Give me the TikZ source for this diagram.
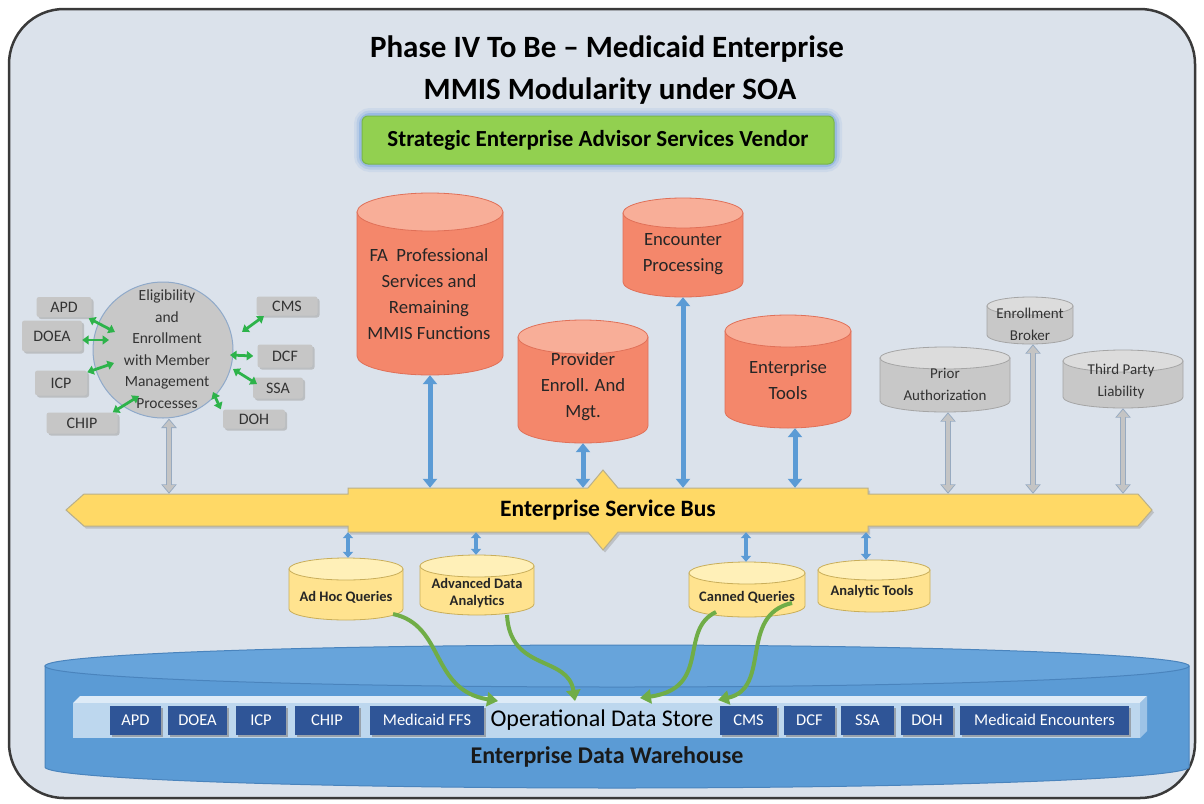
\documentclass[tikz,border=0pt]{standalone}
\usepackage{fontspec}
\setmainfont{Carlito}
\usetikzlibrary{arrows.meta,shapes.geometric,shadows,calc}
\definecolor{bg}{HTML}{DBE2EB}
\definecolor{frame}{HTML}{3A3A3A}
\definecolor{boxgreen}{HTML}{92D050}
\definecolor{boxgreenb}{HTML}{79B649}
\definecolor{glow}{HTML}{6FA0DC}
\definecolor{cylorange}{HTML}{F4876B}
\definecolor{cylorangetop}{HTML}{F8AE98}
\definecolor{cylorangeb}{HTML}{E07058}
\definecolor{cylgray}{HTML}{C8C8C8}
\definecolor{cylgraytop}{HTML}{DCDCDC}
\definecolor{cylgrayb}{HTML}{A5A5A5}
\definecolor{cylyellow}{HTML}{FFE38F}
\definecolor{cylyellowtop}{HTML}{FFF0B8}
\definecolor{cylyellowb}{HTML}{C9AE5A}
\definecolor{edwblue}{HTML}{5B9BD5}
\definecolor{edwtop}{HTML}{67A4DB}
\definecolor{edwb}{HTML}{4A84BD}
\definecolor{odsfront}{HTML}{BDD7EE}
\definecolor{odstop}{HTML}{DEEBF7}
\definecolor{odsside}{HTML}{9DC3E6}
\definecolor{odsbox}{HTML}{2F5597}
\definecolor{esbfill}{HTML}{FFD966}
\definecolor{esbb}{HTML}{B9B08A}
\definecolor{arrowblue}{HTML}{5B9BD5}
\definecolor{arrowgray}{HTML}{C4C4C4}
\definecolor{arrowgrayb}{HTML}{97AAC0}
\definecolor{curvegreen}{HTML}{70AD47}
\definecolor{smallgreen}{HTML}{2DB34A}
\definecolor{eligfill}{HTML}{C8C8C8}
\definecolor{eligb}{HTML}{8FA9C9}
\definecolor{boxgray}{HTML}{C6C6C6}

\newcommand{\cylshape}[8]{%
  \path[#7] (#2-#5,#3+#6) -- (#2-#5,#4-#6) arc[start angle=180,end angle=0,x radius=#5,y radius=#6] -- (#2+#5,#3+#6) -- cycle;
  \path[#7,fill=#8] (#2,#3+#6) ellipse [x radius=#5,y radius=#6];
  \node[inner sep=0pt,minimum width={2*#5},minimum height={#4-#3}] (#1) at (#2,{(#3+#4)/2}) {};
}
\newcommand{\esbpath}{(66,510) -- (84,494) -- (348,494) -- (348,488) -- (588,488) -- (603,470) -- (618,488) -- (868,488) -- (868,494) -- (1138,494) -- (1152,510) -- (1138,526) -- (868,526) -- (868,532) -- (618,532) -- (603,550) -- (588,532) -- (348,532) -- (348,526) -- (84,526) -- cycle}

\tikzset{
  orangecyl/.style={fill=cylorange,draw=cylorangeb,line width=0.8pt},
  graycyl/.style={fill=cylgray,draw=cylgrayb,line width=0.8pt},
  yellowcyl/.style={fill=cylyellow,draw=cylyellowb,line width=0.8pt},
  edwcyl/.style={fill=edwblue,draw=edwb,line width=1pt},
  cyltext/.style={align=center,font=\fontsize{18.7}{26}\selectfont,text=black!85},
  graytext/.style={align=center,font=\fontsize{15}{22}\selectfont,text=black!80},
  ytext/.style={align=center,font=\fontsize{14.5}{17}\selectfont\bfseries,text=black!85},
  smallbox/.style={fill=boxgray,draw=none,inner sep=0pt,rounded corners=2.5pt,font=\fontsize{16}{18}\selectfont,text=black!80,
     drop shadow={shadow xshift=2pt,shadow yshift=-2pt,fill=black!35,opacity=0.6}},
  odsboxst/.style={fill=odsbox,draw=none,inner sep=0pt,minimum height=29pt,text=white,font=\fontsize{16.5}{18}\selectfont,
     drop shadow={shadow xshift=2pt,shadow yshift=-2pt,fill=black!50,opacity=0.6}},
  barrow/.style={draw=arrowblue,line width=5pt,{Triangle[width=14pt,length=9pt]}-{Triangle[width=14pt,length=9pt]}},
  sbarrow/.style={draw=arrowblue,line width=3.5pt,{Triangle[width=10pt,length=6pt]}-{Triangle[width=10pt,length=6pt]}},
  garrowout/.style={draw=arrowgrayb,line width=6.5pt,{Triangle[width=15pt,length=9.5pt]}-{Triangle[width=15pt,length=9.5pt]}},
  garrowin/.style={draw=arrowgray,line width=4.5pt,shorten >=1.6pt,shorten <=1.6pt,{Triangle[width=11.5pt,length=7pt]}-{Triangle[width=11.5pt,length=7pt]}},
  greenarrow/.style={draw=smallgreen,line width=2.8pt,{Triangle[width=9pt,length=6.5pt]}-{Triangle[width=9pt,length=6.5pt]}},
  curvearrow/.style={draw=curvegreen,line width=4pt,-{Triangle[width=14pt,length=11pt]}},
}

\begin{document}
\begin{tikzpicture}[x=1pt,y=-1pt]
\useasboundingbox (0,0) rectangle (1204,803);
\fill[white] (0,0) rectangle (1204,803);
\draw[fill=bg,draw=frame,line width=2.5pt,rounded corners=55pt] (9,9) rectangle (1195,798);

% titles
\node[font=\fontsize{31}{34}\selectfont\bfseries] (t1) at (607,49) {Phase IV To Be -- Medicaid Enterprise};
\node[font=\fontsize{31}{34}\selectfont\bfseries] (t2) at (610,91) {MMIS Modularity under SOA};

% green box with glow
\foreach \w/\op in {16/0.12,11/0.22,6/0.4}
  \draw[glow,line width=\w pt,opacity=\op,rounded corners=8pt] (362,116) rectangle (834,164);
\node[fill=boxgreen,draw=boxgreenb,line width=1pt,rounded corners=6pt,minimum width=472pt,minimum height=48pt,
      font=\fontsize{23}{26}\selectfont\bfseries] (sea) at (598,140) {Strategic Enterprise Advisor Services Vendor};

% orange cylinders
\cylshape{fa}{430}{193}{375}{73}{19}{orangecyl}{cylorangetop}
\node[cyltext] (fat) at (429,294) {FA\ \ Professional\\Services and\\Remaining\\MMIS Functions};
\cylshape{enc}{683}{198}{297}{60}{15}{orangecyl}{cylorangetop}
\node[cyltext] (enct) at (683,254) {Encounter\\Processing};
\cylshape{prov}{583}{320}{443}{65}{17}{orangecyl}{cylorangetop}
\node[cyltext] (provt) at (583,387) {Provider\\Enroll. And\\Mgt.};
\cylshape{tools}{788}{315}{428}{63}{16}{orangecyl}{cylorangetop}
\node[cyltext] (toolst) at (788,380) {Enterprise\\Tools};

% gray cylinders
\cylshape{pa}{945}{347}{412}{65}{11}{graycyl}{cylgraytop}
\node[graytext] (pat) at (945,384) {Prior\\Authorization};
\cylshape{eb}{1030}{297}{344}{43}{9}{graycyl}{cylgraytop}
\node[graytext] (ebt) at (1030,324) {Enrollment\\Broker};
\cylshape{tpl}{1123}{350}{408}{60}{11}{graycyl}{cylgraytop}
\node[graytext] (tplt) at (1121,381) {Third Party\\Liability};

% eligibility circle
\node[ellipse,fill=eligfill,draw=eligb,line width=1pt,minimum width=140pt,minimum height=136pt,inner sep=0pt] (elig) at (163,350) {};
\node[align=center,font=\fontsize{15.5}{21.5}\selectfont,text=black!80] (eligt) at (167,349)
  {Eligibility\\and\\Enrollment\\with Member\\Management\\Processes};

% small gray boxes
\node[smallbox,minimum width=55pt,minimum height=20pt] (apd) at (64,307) {APD};
\node[smallbox,minimum width=60pt,minimum height=31pt] (doea) at (52,336) {DOEA};
\node[smallbox,minimum width=52pt,minimum height=25pt] (icp) at (61,383) {ICP};
\node[smallbox,minimum width=71pt,minimum height=21pt] (chip) at (82,423) {CHIP};
\node[smallbox,minimum width=61pt,minimum height=19pt] (cms) at (287,306) {CMS};
\node[smallbox,minimum width=55pt,minimum height=23pt] (dcf) at (285,356) {DCF};
\node[smallbox,minimum width=50pt,minimum height=21pt] (ssa) at (278,388) {SSA};
\node[smallbox,minimum width=62pt,minimum height=19pt] (doh) at (254,419) {DOH};

% green small arrows
\coordinate (eApd) at (115,332);
\coordinate (eDoea) at (109,340);
\coordinate (eIcp) at (114,363);
\coordinate (eChip) at (139,396);
\coordinate (eCms) at (242,332);
\coordinate (eDcf) at (230,355);
\coordinate (eSsa) at (233,369);
\coordinate (eDoh) at (213,392);
\coordinate (bCms) at (264,316);
\coordinate (bSsa) at (257,384);
\draw[greenarrow] ([shift={(-3pt,-1pt)}]apd.south east) -- (eApd);
\draw[greenarrow] ([yshift=-4pt]doea.east) -- (eDoea);
\draw[greenarrow] ([shift={(0pt,-2pt)}]icp.north east) -- (eIcp);
\draw[greenarrow] ([xshift=-5pt]chip.north east) -- (eChip);
\draw[greenarrow] (bCms) -- (eCms);
\draw[greenarrow] ([xshift=-4pt]dcf.west) -- (eDcf);
\draw[greenarrow] (bSsa) -- (eSsa);
\draw[greenarrow] ([xshift=-2pt]doh.north west) -- (eDoh);

% Enterprise service bus
\fill[black!40,opacity=0.45,shift={(2pt,-2.5pt)}] \esbpath;
\draw[fill=esbfill,draw=esbb,line width=1pt] \esbpath;
\node[inner sep=0pt,minimum width=1054pt,minimum height=32pt] (esb) at (611,510) {};
\node[inner sep=0pt,minimum width=520pt,minimum height=44pt] (esbw) at (608,510) {};
\node[font=\fontsize{23.5}{26}\selectfont\bfseries] (esbt) at (608,510) {Enterprise Service Bus};

% arrows to the bus
\draw[garrowout] ([xshift=6pt]elig.south) -- ([xshift=6pt]elig.south |- esb.north);
\draw[garrowin]  ([xshift=6pt]elig.south) -- ([xshift=6pt]elig.south |- esb.north);
\draw[barrow] (fa.south) -- (fa.south |- esbw.north);
\draw[barrow] (prov.south) -- (prov.south |- esbw.north);
\draw[barrow] (enc.south) -- (enc.south |- esbw.north);
\draw[barrow] ([xshift=7pt]tools.south) -- ([xshift=7pt]tools.south |- esbw.north);
\draw[garrowout] ([xshift=3pt]pa.south) -- ([xshift=3pt]pa.south |- esb.north);
\draw[garrowin]  ([xshift=3pt]pa.south) -- ([xshift=3pt]pa.south |- esb.north);
\draw[garrowout] ([xshift=3pt]eb.south) -- ([xshift=3pt]eb.south |- esb.north);
\draw[garrowin]  ([xshift=3pt]eb.south) -- ([xshift=3pt]eb.south |- esb.north);
\draw[garrowout] (tpl.south) -- (tpl.south |- esb.north);
\draw[garrowin]  (tpl.south) -- (tpl.south |- esb.north);

% yellow cylinders
\cylshape{adhoc}{346}{558}{620}{57}{11}{yellowcyl}{cylyellowtop}
\node[ytext] (adhoct) at (346,597) {Ad Hoc Queries};
\cylshape{ada}{477}{555}{615}{57}{11}{yellowcyl}{cylyellowtop}
\node[ytext] (adat) at (477,593) {Advanced Data\\Analytics};
\cylshape{canned}{747}{562}{617}{58}{11}{yellowcyl}{cylyellowtop}
\node[ytext] (cannedt) at (747,597) {Canned Queries};
\cylshape{atools}{874}{560}{612}{56}{10}{yellowcyl}{cylyellowtop}
\node[ytext] (atoolst) at (872,592) {Analytic Tools};

\draw[sbarrow] ([xshift=2pt]adhoc.north |- esbw.south) -- ([xshift=2pt]adhoc.north);
\draw[sbarrow] ([xshift=-1pt]ada.north |- esbw.south) -- ([xshift=-1pt]ada.north);
\draw[sbarrow] ([xshift=-1pt]canned.north |- esbw.south) -- ([xshift=-1pt]canned.north);
\draw[sbarrow] ([xshift=-8pt]atools.north |- esbw.south) -- ([xshift=-8pt]atools.north);

% enterprise data warehouse
\cylshape{edw}{617}{645}{788}{572}{21}{edwcyl}{edwtop}

% operational data store strip
\fill[odstop] (73,703) -- (80,696) -- (1147,696) -- (1140,703) -- cycle;
\fill[odsside] (1140,703) -- (1147,696) -- (1147,731) -- (1140,738) -- cycle;
\fill[odsfront] (73,703) rectangle (1140,738);
\foreach \n/\cx/\w/\t in {oapd/135.5/51/APD, odoea/197.5/59/DOEA, oicp/261/50/ICP, ochip/327/64/CHIP,
    offs/427/114/Medicaid FFS, ocms/748.5/57/CMS, odcf/809.5/51/DCF, ossa/867.5/53/SSA,
    odoh/927/52/DOH, oenc/1044.5/169/Medicaid Encounters}
  \node[odsboxst,minimum width=\w pt] (\n) at (\cx,720) {\t};
\node[font=\fontsize{24}{26}\selectfont,text=black] (ods) at (602,720) {Operational Data Store};
\node[font=\fontsize{24}{26}\selectfont\bfseries,text=black!90] (edwt) at (607,757) {Enterprise Data Warehouse};

% green curved arrows
\coordinate (s1) at (393,614);
\coordinate (s2) at (507,615);
\coordinate (s3) at (716,612);
\coordinate (s4) at (792,603);
\coordinate (g1) at (498,701);
\coordinate (g2) at (575,701);
\coordinate (g3) at (640,698);
\coordinate (g4) at (718,700);
\draw[curvearrow] (s1) .. controls (445,625) and (430,690) .. (g1);
\draw[curvearrow] (s2) .. controls (510,672) and (568,655) .. (g2);
\draw[curvearrow] (s3) .. controls (678,630) and (712,688) .. (g3);
\draw[curvearrow] (s4) .. controls (738,615) and (772,688) .. (g4);
\end{tikzpicture}
\end{document}
